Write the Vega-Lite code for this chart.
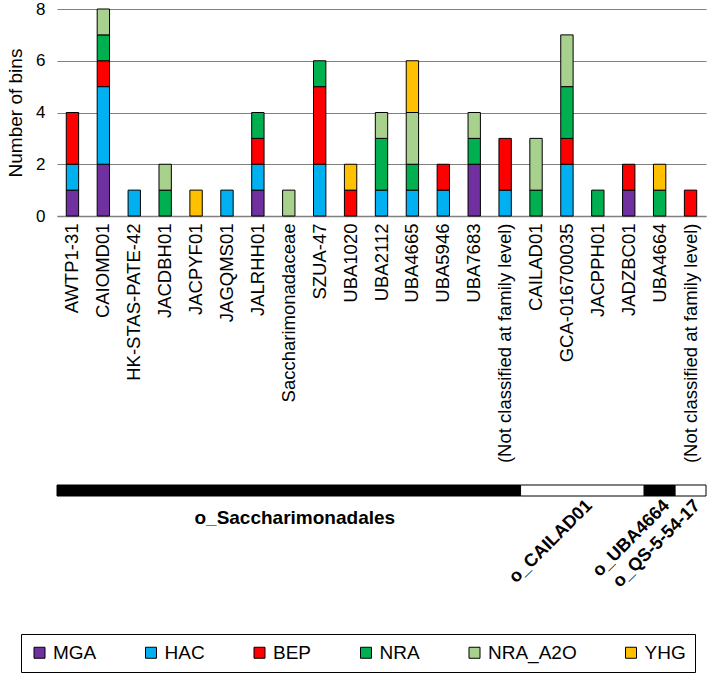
{
  "$schema": "https://vega.github.io/schema/vega-lite/v6.json",
  "padding": {"left": 6, "top": 0, "right": 0, "bottom": 0},
  "config": {
    "font": "Liberation Sans",
    "view": {"stroke": null},
    "concat": {"spacing": 21}
  },
  "datasets": {
    "bins": [
      {"cat": "AWTP1-31", "type": "MGA", "n": 1},
      {"cat": "AWTP1-31", "type": "HAC", "n": 1},
      {"cat": "AWTP1-31", "type": "BEP", "n": 2},
      {"cat": "CAIOMD01", "type": "MGA", "n": 2},
      {"cat": "CAIOMD01", "type": "HAC", "n": 3},
      {"cat": "CAIOMD01", "type": "BEP", "n": 1},
      {"cat": "CAIOMD01", "type": "NRA", "n": 1},
      {"cat": "CAIOMD01", "type": "NRA_A2O", "n": 1},
      {"cat": "HK-STAS-PATE-42", "type": "HAC", "n": 1},
      {"cat": "JACDBH01", "type": "NRA", "n": 1},
      {"cat": "JACDBH01", "type": "NRA_A2O", "n": 1},
      {"cat": "JACPYF01", "type": "YHG", "n": 1},
      {"cat": "JAGQMS01", "type": "HAC", "n": 1},
      {"cat": "JALRHH01", "type": "MGA", "n": 1},
      {"cat": "JALRHH01", "type": "HAC", "n": 1},
      {"cat": "JALRHH01", "type": "BEP", "n": 1},
      {"cat": "JALRHH01", "type": "NRA", "n": 1},
      {"cat": "Saccharimonadaceae", "type": "NRA_A2O", "n": 1},
      {"cat": "SZUA-47", "type": "HAC", "n": 2},
      {"cat": "SZUA-47", "type": "BEP", "n": 3},
      {"cat": "SZUA-47", "type": "NRA", "n": 1},
      {"cat": "UBA1020", "type": "BEP", "n": 1},
      {"cat": "UBA1020", "type": "YHG", "n": 1},
      {"cat": "UBA2112", "type": "HAC", "n": 1},
      {"cat": "UBA2112", "type": "NRA", "n": 2},
      {"cat": "UBA2112", "type": "NRA_A2O", "n": 1},
      {"cat": "UBA4665", "type": "HAC", "n": 1},
      {"cat": "UBA4665", "type": "NRA", "n": 1},
      {"cat": "UBA4665", "type": "NRA_A2O", "n": 2},
      {"cat": "UBA4665", "type": "YHG", "n": 2},
      {"cat": "UBA5946", "type": "HAC", "n": 1},
      {"cat": "UBA5946", "type": "BEP", "n": 1},
      {"cat": "UBA7683", "type": "MGA", "n": 2},
      {"cat": "UBA7683", "type": "NRA", "n": 1},
      {"cat": "UBA7683", "type": "NRA_A2O", "n": 1},
      {"cat": "(Not classified at family level)|a", "type": "HAC", "n": 1},
      {"cat": "(Not classified at family level)|a", "type": "BEP", "n": 2},
      {"cat": "CAILAD01", "type": "NRA", "n": 1},
      {"cat": "CAILAD01", "type": "NRA_A2O", "n": 2},
      {"cat": "GCA-016700035", "type": "HAC", "n": 2},
      {"cat": "GCA-016700035", "type": "BEP", "n": 1},
      {"cat": "GCA-016700035", "type": "NRA", "n": 2},
      {"cat": "GCA-016700035", "type": "NRA_A2O", "n": 2},
      {"cat": "JACPPH01", "type": "NRA", "n": 1},
      {"cat": "JADZBC01", "type": "MGA", "n": 1},
      {"cat": "JADZBC01", "type": "BEP", "n": 1},
      {"cat": "UBA4664", "type": "NRA", "n": 1},
      {"cat": "UBA4664", "type": "YHG", "n": 1},
      {"cat": "(Not classified at family level)|b", "type": "BEP", "n": 1}
    ],
    "orders": [
      {"ord": "o_Saccharimonadales", "start": 0, "end": 15},
      {"ord": "o_CAILAD01", "start": 15, "end": 19},
      {"ord": "o_UBA4664", "start": 19, "end": 20},
      {"ord": "o_QS-5-54-17", "start": 20, "end": 21}
    ]
  },
  "resolve": {"scale": {"color": "shared"}, "legend": {"color": "shared"}},
  "vconcat": [
    {
      "width": 649,
      "height": 207,
      "data": {"name": "bins"},
      "transform": [
        {"calculate": "indexof(['MGA','HAC','BEP','NRA','NRA_A2O','YHG'], datum.type)", "as": "k"}
      ],
      "mark": {"type": "bar", "stroke": "black", "strokeWidth": 1},
      "encoding": {
        "x": {
          "field": "cat",
          "type": "nominal",
          "sort": null,
          "scale": {"paddingInner": 0.6, "paddingOuter": 0.3},
          "axis": {
            "title": null,
            "labelAngle": -90,
            "labelExpr": "split(datum.label, '|')[0]",
            "labelFontSize": 18.5,
            "labelColor": "black",
            "labelLimit": 0,
            "ticks": false,
            "tickSize": 0,
            "labelPadding": 7,
            "domainColor": "#808080",
            "domainWidth": 1.5
          }
        },
        "y": {
          "field": "n",
          "type": "quantitative",
          "stack": "zero",
          "scale": {"domain": [0, 8]},
          "axis": {
            "title": "Number of bins",
            "values": [0, 2, 4, 6, 8],
            "domain": false,
            "ticks": false,
            "tickSize": 0,
            "labelPadding": 12,
            "labelFontSize": 17,
            "labelColor": "black",
            "titleFontSize": 19,
            "titleFontWeight": "normal",
            "titleColor": "black",
            "titlePadding": 10,
            "gridColor": "#808080",
            "gridWidth": 1.2
          }
        },
        "color": {
          "field": "type",
          "type": "nominal",
          "scale": {
            "domain": ["MGA", "HAC", "BEP", "NRA", "NRA_A2O", "YHG"],
            "range": ["#7030A0", "#00B0F0", "#FF0000", "#00B050", "#A9D18E", "#FFC000"]
          },
          "legend": {
            "title": null,
            "orient": "none",
            "legendX": -36,
            "legendY": 625,
            "direction": "horizontal",
            "columns": 6,
            "symbolType": "square",
            "symbolSize": 121,
            "symbolStrokeColor": "black",
            "symbolStrokeWidth": 1,
            "labelFontSize": 19,
            "labelColor": "black",
            "labelOffset": 4,
            "columnPadding": 44.5,
            "padding": 9,
            "strokeColor": "black",
            "fillColor": "white"
          }
        },
        "order": {"field": "k", "type": "quantitative"}
      }
    },
    {
      "width": 649,
      "height": 110,
      "data": {"name": "orders"},
      "transform": [{"calculate": "(datum.start + datum.end) / 2", "as": "mid"}],
      "layer": [
        {
          "mark": {"type": "rect", "stroke": "black", "strokeWidth": 1},
          "encoding": {
            "x": {"field": "start", "type": "quantitative", "scale": {"domain": [0, 21], "nice": false}, "axis": null},
            "x2": {"field": "end"},
            "y": {"datum": 0, "type": "quantitative", "scale": {"domain": [0, 10], "reverse": true}, "axis": null},
            "y2": {"datum": 1},
            "fill": {
              "field": "ord",
              "type": "nominal",
              "scale": {
                "domain": ["o_Saccharimonadales", "o_CAILAD01", "o_UBA4664", "o_QS-5-54-17"],
                "range": ["black", "white", "black", "white"]
              },
              "legend": null
            }
          }
        },
        {
          "transform": [{"filter": "datum.ord == 'o_Saccharimonadales'"}],
          "mark": {"type": "text", "fontWeight": "bold", "fontSize": 19, "baseline": "middle", "color": "black", "dx": 6},
          "encoding": {
            "x": {"field": "mid", "type": "quantitative"},
            "y": {"datum": 3, "type": "quantitative"},
            "text": {"field": "ord"}
          }
        },
        {
          "transform": [{"filter": "datum.ord != 'o_Saccharimonadales'"}],
          "mark": {"type": "text", "fontWeight": "bold", "fontSize": 18, "angle": -45, "align": "right", "baseline": "middle", "color": "black", "dx": 10},
          "encoding": {
            "x": {"field": "mid", "type": "quantitative"},
            "y": {"datum": 2.3, "type": "quantitative"},
            "text": {"field": "ord"}
          }
        }
      ]
    }
  ]
}
